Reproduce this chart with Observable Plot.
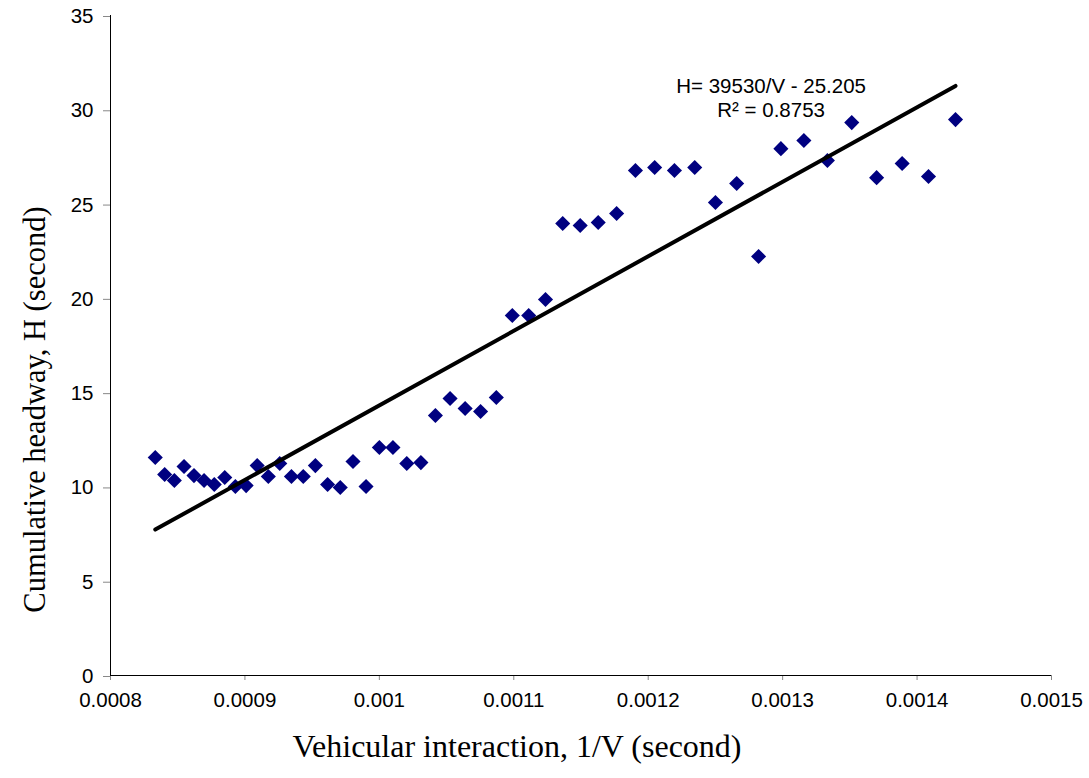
<!DOCTYPE html>
<html>
<head>
<meta charset="utf-8">
<script src="https://cdn.jsdelivr.net/npm/d3@7"></script>
<script src="https://cdn.jsdelivr.net/npm/@observablehq/plot@0.6"></script>
<style>
  html, body { margin: 0; padding: 0; background: #fff; }
</style>
</head>
<body>
<div id="chart"></div>
<script>
// 1/V (second)
const invV = [
  0.0008333, 0.0008403, 0.0008475, 0.0008547, 0.0008621, 0.0008696, 0.0008772, 0.0008850,
  0.0008929, 0.0009009, 0.0009091, 0.0009174, 0.0009259, 0.0009346, 0.0009434, 0.0009524,
  0.0009615, 0.0009709, 0.0009804, 0.0009901, 0.0010000, 0.0010101, 0.0010204, 0.0010309,
  0.0010417, 0.0010526, 0.0010638, 0.0010753, 0.0010870, 0.0010989, 0.0011111, 0.0011236,
  0.0011364, 0.0011494, 0.0011628, 0.0011765, 0.0011905, 0.0012048, 0.0012195, 0.0012346,
  0.0012500, 0.0012658, 0.0012821, 0.0012987, 0.0013158, 0.0013333, 0.0013514, 0.0013699,
  0.0013889, 0.0014085, 0.0014286
];
// Cumulative headway H (second)
const headway = [
  11.56, 10.66, 10.34, 11.08, 10.60, 10.34, 10.13, 10.50,
  10.02, 10.07, 11.13, 10.55, 11.24, 10.55, 10.55, 11.13,
  10.13, 9.97, 11.35, 10.02, 12.09, 12.09, 11.24, 11.29,
  13.79, 14.69, 14.16, 14.00, 14.74, 19.09, 19.09, 19.94,
  23.97, 23.86, 24.02, 24.50, 26.78, 26.94, 26.78, 26.94,
  25.08, 26.09, 22.22, 27.94, 28.37, 27.31, 29.32, 26.40,
  27.15, 26.46, 29.48
];
// Trend line H = 39530/V - 25.205, at the ends of the data
const trendX = [0.0008333, 0.0014286];
const trendY = [7.736, 31.266];

const xTicks = [0.0008, 0.0009, 0.001, 0.0011, 0.0012, 0.0013, 0.0014, 0.0015];
const yTicks = [0, 5, 10, 15, 20, 25, 30, 35];

const annoText = ["H= 39530/V - 25.205", "R\u00B2 = 0.8753"];
const annoX = [0.0012914, 0.0012914];
const annoY = [31.26, 29.96];

const points = invV.map((x, i) => ({x, y: headway[i]}));
const trend = trendX.map((x, i) => ({x, y: trendY[i]}));
const annos = annoText.map((t, i) => ({t, x: annoX[i], y: annoY[i]}));

const serif = "'Liberation Serif', 'Times New Roman', serif";
const sans = "'Liberation Sans', Arial, sans-serif";

const chart = Plot.plot({
  width: 1089,
  height: 778,
  marginLeft: 110,
  marginRight: 38,
  marginTop: 15,
  marginBottom: 103,
  style: {fontFamily: sans, fontSize: "20.5px", background: "#fff", color: "#000"},
  x: {domain: [0.0008, 0.0015]},
  y: {domain: [0, 35]},
  marks: [
    Plot.axisX({ticks: xTicks, tickFormat: d => String(+d.toFixed(4)), tickSize: 5, tickPadding: 12, stroke: "#888", label: null, fontSize: 20.5, fill: "#000"}),
    Plot.axisY({ticks: yTicks, tickSize: 7, tickPadding: 10, stroke: "#888", label: null, fontSize: 20.5, fill: "#000", dy: 1}),
    Plot.ruleX([0.0008], {stroke: "#000", strokeWidth: 1}),
    Plot.ruleY([0], {stroke: "#000", strokeWidth: 1}),
    Plot.dot(points, {x: "x", y: "y", symbol: "diamond2", r: 6.8, fill: "#000080", stroke: "none"}),
    Plot.line(trend, {x: "x", y: "y", stroke: "#000", strokeWidth: 4}),
    Plot.text(annos, {x: "x", y: "y", text: "t", fontSize: 20.5, fontFamily: sans, fill: "#000"}),
    Plot.text(["Vehicular interaction, 1/V (second)"], {frameAnchor: "bottom", textAnchor: "middle", dx: -64, dy: 81, fontSize: 32, fontFamily: serif, fill: "#000"}),
    Plot.text(["Cumulative headway, H (second)"], {frameAnchor: "left", textAnchor: "middle", dx: -75, dy: 64, rotate: -90, fontSize: 30.5, fontFamily: serif, fill: "#000"})
  ]
});
document.getElementById("chart").appendChild(chart);
</script>
</body>
</html>
